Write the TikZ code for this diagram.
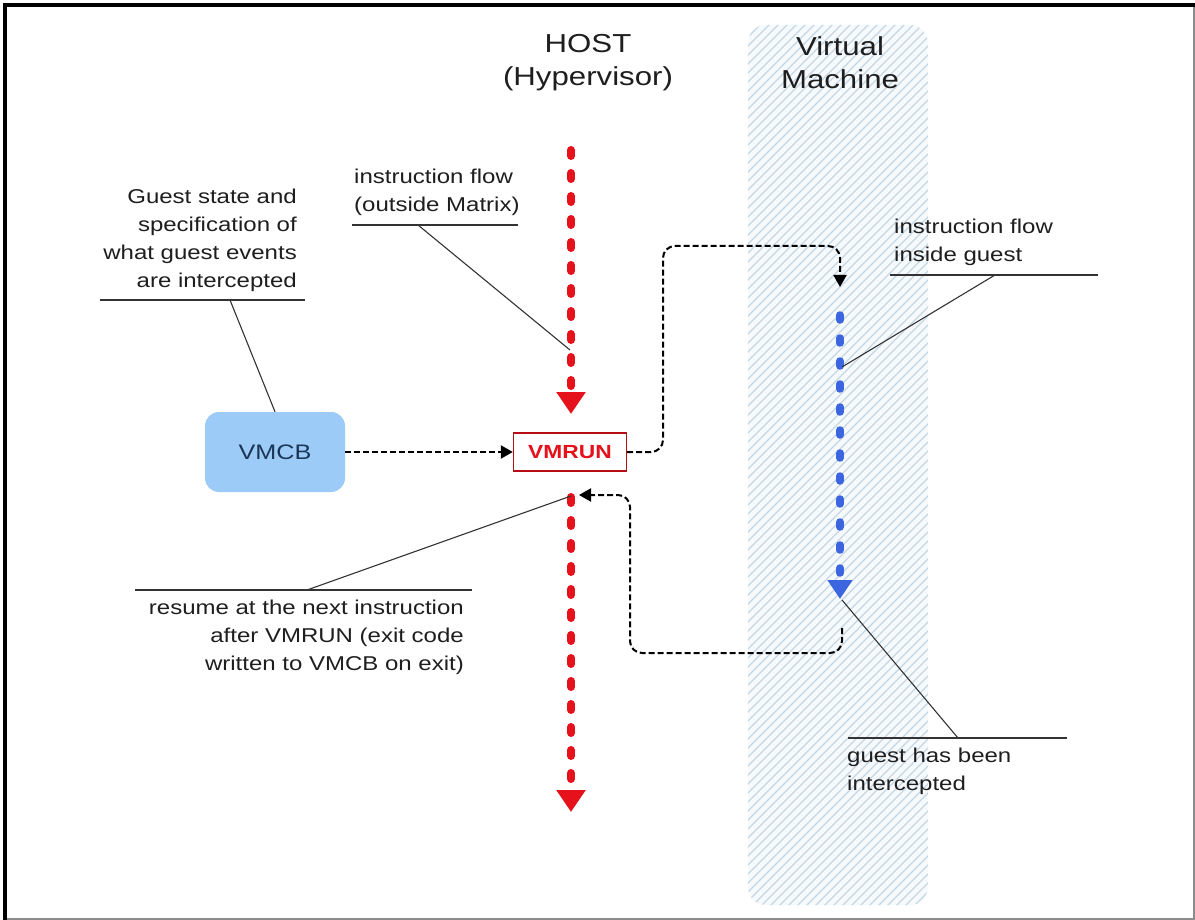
\documentclass[tikz,border=0pt]{standalone}
\usepackage{fontspec}
\setmainfont{Liberation Sans}[FakeStretch=1.2]
\usetikzlibrary{arrows.meta}
\definecolor{vmred}{HTML}{E5121C}
\definecolor{vmblue}{HTML}{3C66E0}
\definecolor{vmcbfill}{HTML}{9DCBF8}
\definecolor{vmcbtext}{HTML}{1B3556}
\definecolor{hatchc}{HTML}{C4D6E4}
\definecolor{bandbg}{HTML}{F7FAFC}
\definecolor{callc}{HTML}{333333}
\definecolor{txtc}{HTML}{1E1E1E}
\begin{document}
\begin{tikzpicture}[x=1pt,y=-1pt,
  lbl/.style={font=\fontsize{20}{28}\selectfont, inner sep=0pt, text=txtc},
  ttl/.style={font=\fontsize{26}{33}\selectfont, align=center, inner sep=0pt, text=txtc},
  redflow/.style={vmred, line width=8pt, dash pattern=on 6pt off 17pt, line cap=round,
     -{Triangle[width=28pt,length=22pt]}},
  blueflow/.style={vmblue, line width=7.5pt, dash pattern=on 5pt off 18pt, line cap=round,
     -{Triangle[width=24pt,length=19pt]}},
  ctrl/.style={black, line width=2pt, dash pattern=on 6pt off 3pt, rounded corners=12pt,
     -{Triangle[width=13pt,length=12pt]}},
  call/.style={callc, line width=1.1pt},
  uline/.style={callc, line width=1.1pt}]
\useasboundingbox (0,0) rectangle (1195,920);
\fill[white] (0,0) rectangle (1195,920);
% frame
\draw[black!45, line width=1.5pt] (1194,5) -- (1194,919) -- (5,919);
\draw[black, line width=3.5pt] (5,920) -- (5,5) -- (1195,5);
% virtual machine band
\begin{scope}
  \clip[rounded corners=18pt] (748,25) rectangle (928,905);
  \fill[bandbg] (740,20) rectangle (935,910);
  \foreach \i in {-170,-161,...,930}
    \draw[hatchc, line width=1.3pt] (\i,910) -- ++(900,-900);
\end{scope}
% titles
\node[ttl] (host) at (588,63) {HOST\\(Hypervisor)};
\node[ttl] (vm) at (840,63) {Virtual\\Machine};
% boxes
\node[draw=none, fill=vmcbfill, rounded corners=14pt, minimum width=140pt, minimum height=80pt,
  text=vmcbtext, font=\fontsize{21}{24}\selectfont] (vmcb) at (275,452) {VMCB};
\node[draw=vmred!80!black, line width=1.3pt, fill=white, minimum width=113pt, minimum height=38pt,
  text=vmred, font=\fontsize{19}{24}\selectfont\bfseries] (vmrun) at (570,452) {VMRUN};
% flow coordinates
\coordinate (r1s) at (571,150);
\coordinate (r1e) at (571,414);
\coordinate (r2s) at (571,497);
\coordinate (r2e) at (571,812);
\coordinate (b1s) at (840,315);
\coordinate (b1e) at (840,599);
\coordinate (c1a) at (663,246);
\coordinate (c1b) at (840,287);
\coordinate (c2s) at (842,628);
\coordinate (c2a) at (630,653);
\coordinate (c2e) at (579,495);
% flows
\draw[redflow] (r1s) -- (r1e);
\draw[redflow] (r2s) -- (r2e);
\draw[blueflow] (b1s) -- (b1e);
\draw[ctrl] (vmcb.east) -- (vmrun.west);
\draw[ctrl] (vmrun.east) -| (c1a) -| (c1b);
\draw[ctrl] (c2s) |- (c2a) |- (c2e);
% callout 1
\coordinate (u1a) at (352,225);
\coordinate (u1b) at (518,225);
\coordinate (u1c) at (418,225);
\coordinate (p1) at (570,350);
\draw[uline] (u1a) -- (u1b);
\draw[call] (u1c) -- (p1);
\node[lbl, anchor=south west, align=left] (t1) at (354,216) {instruction flow\\(outside Matrix)};
% callout 2
\coordinate (u2a) at (100,300);
\coordinate (u2b) at (305,300);
\coordinate (u2c) at (230,300);
\draw[uline] (u2a) -- (u2b);
\draw[call] (u2c) -- (vmcb.north);
\node[lbl, anchor=south east, align=right] (t2) at (297,292) {Guest state and\\specification of\\what guest events\\are intercepted};
% callout 3
\coordinate (u3a) at (890,275);
\coordinate (u3b) at (1098,275);
\coordinate (u3c) at (995,275);
\coordinate (p3) at (842,367);
\draw[uline] (u3a) -- (u3b);
\draw[call] (u3c) -- (p3);
\node[lbl, anchor=south west, align=left] (t3) at (894,266) {instruction flow\\inside guest};
% callout 4
\coordinate (u4a) at (135,590);
\coordinate (u4b) at (472,590);
\coordinate (u4c) at (307,590);
\coordinate (p4) at (571,496);
\draw[uline] (u4a) -- (u4b);
\draw[call] (u4c) -- (p4);
\node[lbl, anchor=north east, align=right] (t4) at (464,600) {resume at the next instruction\\after VMRUN (exit code\\written to VMCB on exit)};
% callout 5
\coordinate (u5a) at (848,738);
\coordinate (u5b) at (1067,738);
\coordinate (u5c) at (958,738);
\coordinate (p5) at (842,600);
\draw[uline] (u5a) -- (u5b);
\draw[call] (p5) -- (u5c);
\node[lbl, anchor=north west, align=left] (t5) at (847,748) {guest has been\\intercepted};
\end{tikzpicture}
\end{document}
